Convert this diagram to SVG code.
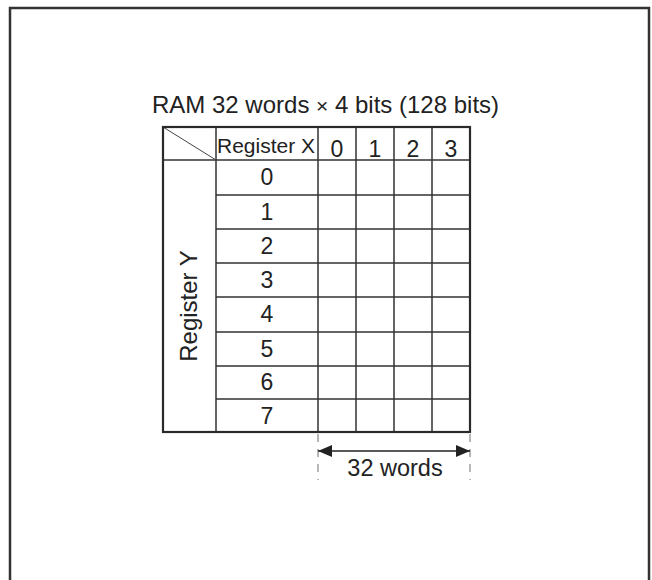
<svg xmlns="http://www.w3.org/2000/svg" width="652" height="580" viewBox="0 0 652 580">
<style>
text{font-family:"Liberation Sans",Arial,sans-serif;fill:#222}
.t{font-size:23.5px}
.c{font-size:23px;text-anchor:middle}
.g{stroke:#333;stroke-width:1.5;fill:none}
.o{stroke:#2a2a2a;stroke-width:2.2;fill:none}
.d{stroke:#888;stroke-width:1.2;stroke-dasharray:8 7;fill:none}
</style>
<defs>
<marker id="ah" viewBox="0 0 14 12" refX="14" refY="6" markerWidth="14" markerHeight="12" markerUnits="userSpaceOnUse" orient="auto-start-reverse">
<path d="M0,0 L14,6 L0,12 Z" fill="#222"/>
</marker>
</defs>
<rect x="10" y="8" width="639" height="590" fill="none" stroke="#333" stroke-width="2.5"/>
<g id="title"><text x="152" y="113" font-size="24">RAM 32 words <tspan font-size="21">×</tspan> 4 bits (128 bits)</text></g>
<g id="table">
<path class="g" d="M216,127V432 M318,127V432 M356,127V432 M394,127V432 M432,127V432 M163,160H470 M216,195H470 M216,229H470 M216,263H470 M216,297H470 M216,332H470 M216,366H470 M216,399H470"/>
<path d="M163,127L216,160" stroke="#444" stroke-width="1" fill="none"/>
<rect class="o" x="163" y="127" width="307" height="305"/>
<text x="217" y="153" font-size="21">Register X</text>
<text class="c" x="337" y="157">0</text>
<text class="c" x="375" y="157">1</text>
<text class="c" x="413" y="157">2</text>
<text class="c" x="451" y="157">3</text>
<text class="c" x="267" y="185">0</text>
<text class="c" x="267" y="220">1</text>
<text class="c" x="267" y="254">2</text>
<text class="c" x="267" y="288">3</text>
<text class="c" x="267" y="322">4</text>
<text class="c" x="267" y="357">5</text>
<text class="c" x="267" y="390">6</text>
<text class="c" x="267" y="424">7</text>
<text text-anchor="middle" font-size="24" transform="translate(197,306) rotate(-90)">Register Y</text>
</g>
<g id="connectors">
<path class="d" d="M318,434V480 M470,434V480"/>
<path d="M318,451H470" stroke="#222" stroke-width="1.5" marker-start="url(#ah)" marker-end="url(#ah)"/>
</g>
<g id="dim"><text class="t" text-anchor="middle" x="395" y="476">32 words</text></g>
</svg>
